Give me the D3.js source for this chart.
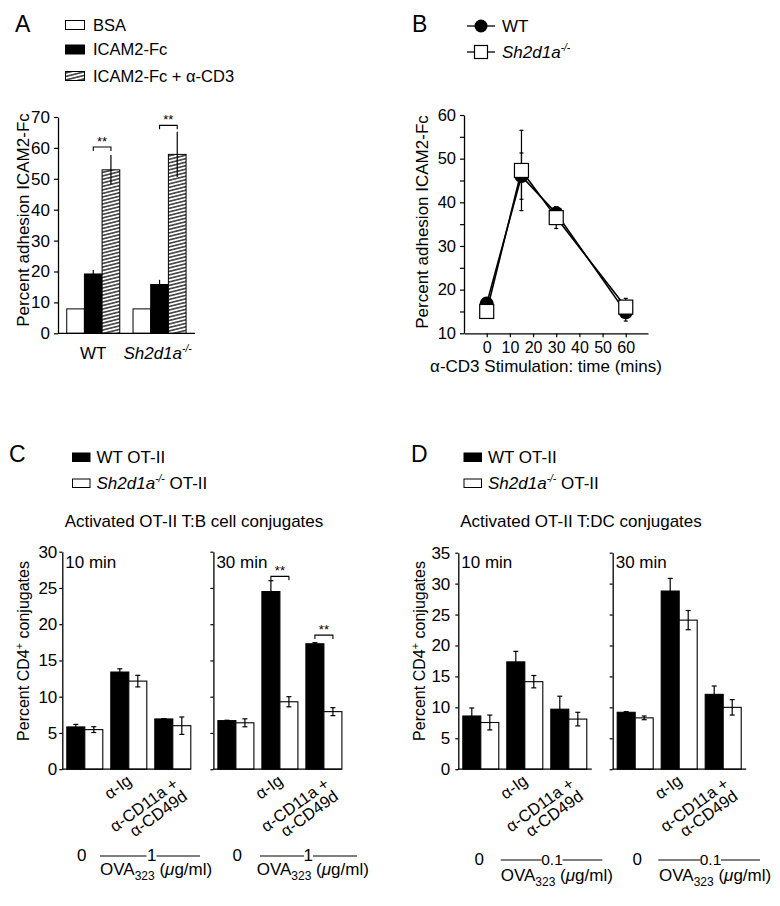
<!DOCTYPE html>
<html><head><meta charset="utf-8">
<script src="https://cdn.jsdelivr.net/npm/d3@7"></script>
<style>
body{margin:0;background:#fff}
svg{display:block}
text{font-family:"Liberation Sans",Arial,Helvetica,sans-serif;fill:#000}
</style>
</head><body><svg id="fig" width="780" height="906"></svg>
<script>
// ---------------- DATA ----------------
// Panel A
const aGroups = ["WT", "Sh2d1a"];
const aSeries = ["BSA", "ICAM2-Fc", "ICAM2-Fc + α-CD3"];
const aValues = [[7.9, 19.2, 52.9], [7.9, 15.8, 57.9]];
const aErrors = [[0, 1.3, 4.8], [0, 1.5, 7.3]];
const aSig = [60.3, 67.3];
const aTicks = [0, 10, 20, 30, 40, 50, 60, 70];

// Panel B
const bTimes = [0, 15, 30, 60];
const bWT = [16.8, 46, 37.5, 14.8];
const bWTerr = [0.5, 5.3, 1.5, 2];
const bKO = [15, 47.3, 36.5, 16];
const bKOerr = [0.5, 9.2, 2.5, 2];
const bXTicks = [0, 10, 20, 30, 40, 50, 60];
const bYTicks = [10, 15, 20, 25, 30, 35, 40, 45, 50, 55, 60];

// Panels C & D
const cdGroups = ["none", "aIg", "aCD"];
const cdSeries = ["WT OT-II", "Sh2d1a OT-II"];
const cWT10 = [5.83, 13.4, 6.93], cWT10err = [0.35, 0.45, 0.05];
const cKO10 = [5.46, 12.15, 6.0], cKO10err = [0.4, 0.8, 1.2];
const cWT30 = [6.7, 24.5, 17.3], cWT30err = [0.05, 1.5, 0.15];
const cKO30 = [6.4, 9.3, 7.94], cKO30err = [0.55, 0.7, 0.55];
const cSig30 = [null, 26.6, 18.5];
const cTicks = [0, 5, 10, 15, 20, 25, 30];

const dWT10 = [8.6, 17.35, 9.7], dWT10err = [1.3, 1.7, 2.1];
const dKO10 = [7.55, 14.15, 8.1], dKO10err = [1.2, 1.0, 1.1];
const dWT30 = [9.2, 28.8, 12.1], dWT30err = [0.1, 2.05, 1.35];
const dKO30 = [8.3, 24.1, 10.0], dKO30err = [0.3, 1.55, 1.25];
const dTicks = [0, 5, 10, 15, 20, 25, 30, 35];

// ---------------- DRAW ----------------
const svg = d3.select("#fig");
const defs = svg.append("defs");
const pat = defs.append("pattern").attr("id", "hatch").attr("patternUnits", "userSpaceOnUse")
  .attr("width", 10).attr("height", 3.4).attr("patternTransform", "rotate(-14)");
pat.append("rect").attr("width", 10).attr("height", 3.4).attr("fill", "#fff");
pat.append("line").attr("x1", 0).attr("x2", 10).attr("y1", 1.7).attr("y2", 1.7)
  .attr("stroke", "#000").attr("stroke-width", 1.2);

const FS = 17;
function styleAxis(g, fs) {
  g.selectAll("path.domain").attr("stroke", "#000").attr("stroke-width", 1.3);
  g.selectAll(".tick line").attr("stroke", "#000").attr("stroke-width", 1.2);
  g.selectAll(".tick text").attr("font-size", fs || FS).attr("fill", "#000")
    .style("font-family", '"Liberation Sans",Arial,sans-serif');
}
function letter(t, x, y) {
  svg.append("text").attr("x", x).attr("y", y).attr("font-size", 23).text(t);
}
function koText(sel, prefix, suffix, fs) {
  if (prefix) sel.append("tspan").text(prefix);
  sel.append("tspan").attr("font-style", "italic").text("Sh2d1a");
  sel.append("tspan").attr("font-style", "italic").attr("font-size", fs * 0.6)
    .attr("dy", -fs * 0.42).text("-/-");
  if (suffix) sel.append("tspan").attr("dy", fs * 0.42).text(suffix);
}
function errBar(g, x, y, v, e, cap) {
  if (e <= 0) return;
  g.append("line").attr("x1", x).attr("x2", x).attr("y1", y(v - e)).attr("y2", y(v + e))
    .attr("stroke", "#000").attr("stroke-width", 1.2);
  [v - e, v + e].forEach(t => g.append("line").attr("x1", x - cap / 2).attr("x2", x + cap / 2)
    .attr("y1", y(t)).attr("y2", y(t)).attr("stroke", "#000").attr("stroke-width", 1.2));
}
function sigBracket(g, x1, x2, yv) {
  g.append("path").attr("d", `M${x1},${yv + 4}V${yv}H${x2}V${yv + 4}`)
    .attr("fill", "none").attr("stroke", "#000").attr("stroke-width", 1.1);
  g.append("text").attr("x", (x1 + x2) / 2).attr("y", yv - 1).attr("text-anchor", "middle")
    .attr("font-size", 13).text("**");
}

// ===== Panel A =====
letter("A", 15, 32);
{
  const fills = ["#fff", "#000", "url(#hatch)"];
  const rowsY = [25, 49.5, 76];
  aSeries.forEach((s, i) => {
    svg.append("rect").attr("x", 65.5).attr("y", rowsY[i] - 4.5).attr("width", 19).attr("height", 9)
      .attr("fill", fills[i]).attr("stroke", "#000").attr("stroke-width", 1);
    svg.append("text").attr("x", 93).attr("y", rowsY[i] + 5.5).attr("font-size", 16.5).text(s);
  });
  const y = d3.scaleLinear().domain([0, 70]).range([333.3, 117]);
  const x0 = d3.scaleBand().domain(aGroups).range([60.1, 192.7]).paddingInner(0.2).paddingOuter(0.1);
  const x1 = d3.scaleBand().domain(aSeries).range([0, x0.bandwidth()]);
  const g = svg.append("g");
  aGroups.forEach((grp, gi) => {
    aSeries.forEach((s, si) => {
      const bx = x0(grp) + x1(s);
      g.append("rect").attr("x", bx).attr("y", y(aValues[gi][si])).attr("width", x1.bandwidth())
        .attr("height", y(0) - y(aValues[gi][si])).attr("fill", fills[si])
        .attr("stroke", "#000").attr("stroke-width", 1);
      errBar(g, bx + x1.bandwidth() / 2, y, aValues[gi][si], aErrors[gi][si], 0);
    });
    sigBracket(g, x0(grp) + x1("ICAM2-Fc") + x1.bandwidth() / 2,
      x0(grp) + x1(aSeries[2]) + x1.bandwidth() / 2, y(aSig[gi]));
  });
  const ax = svg.append("g").attr("transform", "translate(58,0)")
    .call(d3.axisLeft(y).tickValues(aTicks).tickSize(4).tickSizeOuter(0).tickPadding(4));
  styleAxis(ax, 17);
  svg.append("line").attr("x1", 58).attr("x2", x0.range()[1] + 2.3).attr("y1", y(0)).attr("y2", y(0))
    .attr("stroke", "#000").attr("stroke-width", 1.3);
  svg.append("text").attr("transform", "translate(29,220) rotate(-90)").attr("text-anchor", "middle")
    .attr("font-size", FS).text("Percent adhesion ICAM2-Fc");
  svg.append("text").attr("x", x0("WT") + x0.bandwidth() / 2).attr("y", 359).attr("text-anchor", "middle")
    .attr("font-size", FS).text("WT");
  const t = svg.append("text").attr("x", x0("Sh2d1a") + x0.bandwidth() / 2 - 2).attr("y", 359)
    .attr("text-anchor", "middle").attr("font-size", FS);
  koText(t, null, null, FS);
}

// ===== Panel B =====
letter("B", 412, 32);
{
  [[26, "wt"], [52, "ko"]].forEach(([ly, k]) => {
    svg.append("line").attr("x1", 467).attr("x2", 495).attr("y1", ly).attr("y2", ly)
      .attr("stroke", "#000").attr("stroke-width", 1.3);
    if (k === "wt") {
      svg.append("circle").attr("cx", 481).attr("cy", ly).attr("r", 6.5).attr("fill", "#000");
      svg.append("text").attr("x", 502).attr("y", ly + 6).attr("font-size", FS).text("WT");
    } else {
      svg.append("rect").attr("x", 474.5).attr("y", ly - 6.5).attr("width", 13).attr("height", 13)
        .attr("fill", "#fff").attr("stroke", "#000").attr("stroke-width", 1.2);
      const t = svg.append("text").attr("x", 502).attr("y", ly + 6).attr("font-size", FS);
      koText(t, null, null, FS);
    }
  });
  const x = d3.scaleLinear().domain([-9.8, 69.6]).range([464, 648]);
  const y = d3.scaleLinear().domain([10, 60]).range([333.3, 115]);
  const ax = svg.append("g").attr("transform", "translate(0,333.3)")
    .call(d3.axisBottom(x).tickValues(bXTicks).tickSize(4).tickSizeOuter(0).tickPadding(4));
  styleAxis(ax, 16);
  const ay = svg.append("g").attr("transform", "translate(464,0)")
    .call(d3.axisLeft(y).tickValues(bYTicks).tickSize(4).tickSizeOuter(0).tickPadding(4)
      .tickFormat(d => d % 10 === 0 ? d : ""));
  styleAxis(ay, 16.5);
  const line = d3.line().x((d, i) => x(bTimes[i])).y(d => y(d));
  const g = svg.append("g");
  [bWT, bKO].forEach(arr => g.append("path").attr("d", line(arr)).attr("fill", "none")
    .attr("stroke", "#000").attr("stroke-width", 1.6));
  bTimes.forEach((t, i) => {
    errBar(g, x(t), y, bWT[i], bWTerr[i], 4);
    errBar(g, x(t), y, bKO[i], bKOerr[i], 4);
  });
  bTimes.forEach((t, i) => g.append("circle").attr("cx", x(t)).attr("cy", y(bWT[i])).attr("r", 7).attr("fill", "#000"));
  bTimes.forEach((t, i) => g.append("rect").attr("x", x(t) - 7).attr("y", y(bKO[i]) - 7)
    .attr("width", 14).attr("height", 14).attr("fill", "#fff").attr("stroke", "#000").attr("stroke-width", 1.2));
  svg.append("text").attr("transform", "translate(428,222) rotate(-90)").attr("text-anchor", "middle")
    .attr("font-size", FS).text("Percent adhesion ICAM2-Fc");
  svg.append("text").attr("x", 546).attr("y", 372).attr("text-anchor", "middle").attr("font-size", FS)
    .text("α-CD3 Stimulation: time (mins)");
}

// ===== Panels C & D =====
function barPanel(opt) {
  letter(opt.letter, opt.letterX, 462);
  [0, 1].forEach(i => {
    const ly = 457 + i * 26;
    svg.append("rect").attr("x", opt.legX).attr("y", ly - 4).attr("width", 17.5).attr("height", 8.5)
      .attr("fill", i ? "#fff" : "#000").attr("stroke", "#000").attr("stroke-width", 1);
    const t = svg.append("text").attr("x", opt.legX + 24).attr("y", ly + 6).attr("font-size", FS);
    if (i === 0) t.text("WT OT-II"); else koText(t, null, " OT-II", FS);
  });
  svg.append("text").attr("x", opt.titleX).attr("y", 527).attr("text-anchor", "middle")
    .attr("font-size", FS).text(opt.title);
  const y = d3.scaleLinear().domain([0, opt.max]).range([769.2, opt.top]);
  const yl = svg.append("text").attr("transform", `translate(${opt.ylabX},651) rotate(-90)`)
    .attr("text-anchor", "middle").attr("font-size", 16);
  yl.append("tspan").text("Percent  CD4");
  yl.append("tspan").attr("font-size", 11).attr("dy", -6).text("+");
  yl.append("tspan").attr("dy", 6).text(" conjugates");

  opt.subs.forEach((sub, si) => {
    const ax0 = sub.axisX;
    const xb = d3.scaleBand().domain(cdGroups).range([ax0 + 4.5, ax0 + 128.5]).paddingInner(8 / 44).paddingOuter(0);
    const xs = d3.scaleBand().domain(cdSeries).range([0, xb.bandwidth()]);
    const g = svg.append("g");
    const vals = [sub.wt, sub.ko], errs = [sub.wtErr, sub.koErr];
    cdGroups.forEach((grp, gi) => {
      cdSeries.forEach((s, k) => {
        const bx = xb(grp) + xs(s);
        g.append("rect").attr("x", bx).attr("y", y(vals[k][gi])).attr("width", xs.bandwidth())
          .attr("height", y(0) - y(vals[k][gi])).attr("fill", k ? "#fff" : "#000")
          .attr("stroke", "#000").attr("stroke-width", 1.1);
        errBar(g, bx + xs.bandwidth() / 2, y, vals[k][gi], errs[k][gi], 5);
      });
      if (sub.sig && sub.sig[gi] != null) {
        sigBracket(g, xb(grp) + xs.bandwidth() / 2, xb(grp) + xs.bandwidth() * 1.5, y(sub.sig[gi]));
      }
    });
    const axis = d3.axisLeft(y).tickValues(opt.ticks).tickSize(3).tickSizeOuter(0).tickPadding(opt.pad);
    if (si === 1) axis.tickFormat("");
    const ag = svg.append("g").attr("transform", `translate(${ax0},0)`).call(axis);
    styleAxis(ag, 17);
    svg.append("line").attr("x1", ax0).attr("x2", ax0 + opt.xLen).attr("y1", y(0)).attr("y2", y(0))
      .attr("stroke", "#000").attr("stroke-width", 1.3);
    svg.append("text").attr("x", ax0 + 3).attr("y", 568).attr("font-size", FS).text(sub.label);
    const c2 = xb("aIg") + xb.bandwidth() / 2, c3 = xb("aCD") + xb.bandwidth() / 2;
    svg.append("text").attr("transform", `translate(${c2 + 4},783) rotate(-36)`).attr("text-anchor", "end")
      .attr("font-size", 16.5).text("α-Ig");
    const t2 = svg.append("text").attr("transform", `translate(${c3 + 6.5},786) rotate(-36)`)
      .attr("text-anchor", "end").attr("font-size", 16.5);
    t2.append("tspan").attr("x", 0).attr("y", 0).text("α-CD11a +");
    t2.append("tspan").attr("x", 0).attr("y", 15.5).text("α-CD49d");
    const r = sub.row;
    svg.append("text").attr("x", r.zero).attr("y", r.base).attr("text-anchor", "middle").attr("font-size", FS).text("0");
    svg.append("text").attr("x", r.dose).attr("y", r.base).attr("text-anchor", "middle").attr("font-size", opt.doseFs).text(opt.dose);
    [[r.l1, r.l2], [r.l3, r.l4]].forEach(([a, b]) => svg.append("line").attr("x1", a).attr("x2", b)
      .attr("y1", r.base - 5).attr("y2", r.base - 5).attr("stroke", "#000").attr("stroke-width", 1.1));
    const ov = svg.append("text").attr("x", r.ova).attr("y", r.ovaBase).attr("font-size", FS);
    ov.append("tspan").text("OVA");
    ov.append("tspan").attr("font-size", 12).attr("dy", 5).text("323");
    ov.append("tspan").attr("dy", -5).text(" (");
    ov.append("tspan").attr("font-style", "italic").text("μ");
    ov.append("tspan").text("g/ml)");
  });
}

barPanel({
  letter: "C", letterX: 9, legX: 72.5, title: "Activated OT-II T:B cell conjugates", titleX: 194,
  max: 30, top: 551.7, ticks: cTicks, pad: 2, ylabX: 29, xLen: 128, dose: "1", doseFs: 17,
  subs: [
    { axisX: 62.3, label: "10 min", wt: cWT10, wtErr: cWT10err, ko: cKO10, koErr: cKO10err,
      row: { zero: 81.7, dose: 151.7, base: 861, l1: 100, l2: 146.5, l3: 156.5, l4: 200, ova: 100, ovaBase: 875 } },
    { axisX: 213.4, label: "30 min", wt: cWT30, wtErr: cWT30err, ko: cKO30, koErr: cKO30err, sig: cSig30,
      row: { zero: 237.3, dose: 308.3, base: 861, l1: 260, l2: 304, l3: 313, l4: 357, ova: 256.7, ovaBase: 875 } }
  ]
});
barPanel({
  letter: "D", letterX: 411, legX: 464, title: "Activated OT-II T:DC conjugates", titleX: 581,
  max: 35, top: 552.7, ticks: dTicks, pad: 5, ylabX: 425, xLen: 133.5, dose: "0.1", doseFs: 15.5,
  subs: [
    { axisX: 458.3, label: "10 min", wt: dWT10, wtErr: dWT10err, ko: dKO10, koErr: dKO10err,
      row: { zero: 479.3, dose: 552, base: 865, l1: 500.7, l2: 541.5, l3: 562.5, l4: 602.3, ova: 500.7, ovaBase: 880.5 } },
    { axisX: 612.7, label: "30 min", wt: dWT30, wtErr: dWT30err, ko: dKO30, koErr: dKO30err,
      row: { zero: 637.3, dose: 710.5, base: 865, l1: 658.3, l2: 700, l3: 721, l4: 760, ova: 659, ovaBase: 880.5 } }
  ]
});
</script>
</body></html>
